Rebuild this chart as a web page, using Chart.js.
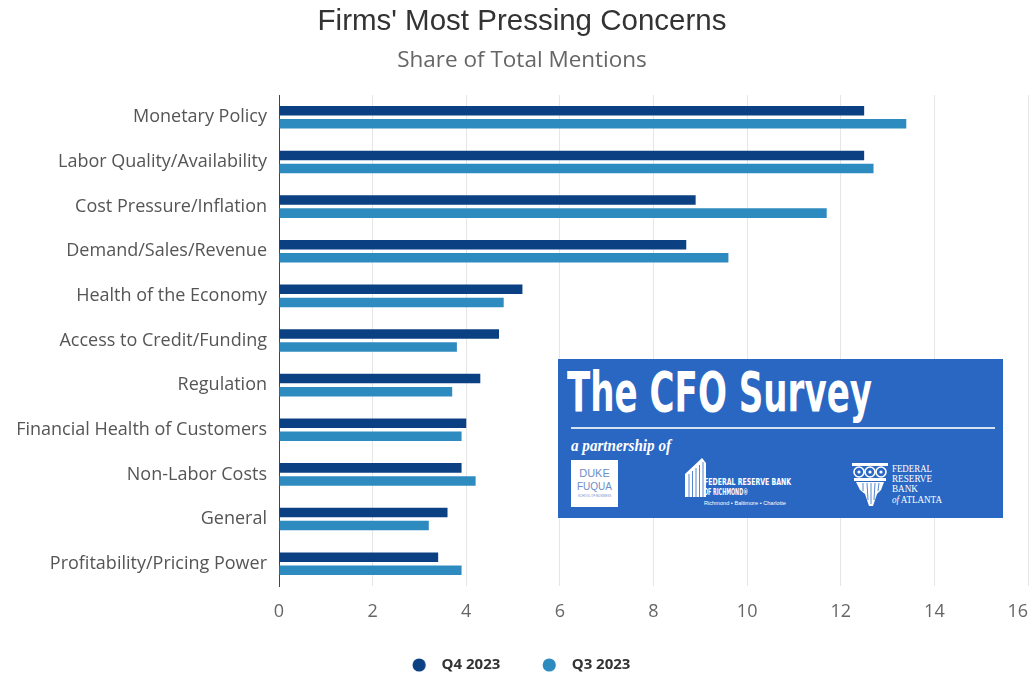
<!DOCTYPE html>
<html>
<head>
<meta charset="utf-8">
<script src="https://cdn.jsdelivr.net/npm/chart.js@4.4.1/dist/chart.umd.min.js"></script>
<style>
  html, body { margin: 0; padding: 0; background: #ffffff; }
  #wrap { position: relative; width: 1032px; height: 676px; }
  #c { position: absolute; left: 0; top: 0; }
  #logo { position: absolute; left: 558px; top: 359px; width: 445px; height: 159px; background: #2a67c3; overflow: hidden; }
  #logo .a { position: absolute; white-space: nowrap; color: #fff; transform-origin: 0 0; line-height: 1; }
  #cfo { left: 9px; top: 5px; font-family: "Liberation Sans Narrow", "DejaVu Sans Condensed", "Liberation Sans", sans-serif; font-weight: bold; font-size: 56px; }
  #rule { position: absolute; left: 13px; top: 68px; width: 424px; height: 2px; background: #d4e2f4; }
  #part { left: 13px; top: 79px; font-family: "Liberation Serif", "DejaVu Serif", serif; font-style: italic; font-weight: bold; font-size: 16px; }
  #duke { position: absolute; left: 13px; top: 101px; width: 47px; height: 47px; background: #fff; }
  #duke .d { position: absolute; left: 0; width: 47px; text-align: center; color: #6d8ec9; font-family: "Liberation Sans", sans-serif; line-height: 1; }
  .rt { font-family: "Liberation Sans Narrow", "DejaVu Sans Condensed", sans-serif; font-weight: bold; }
  .at { font-family: "Liberation Serif", "DejaVu Serif", serif; }
</style>
</head>
<body>
<div id="wrap">
  <canvas id="c" width="1032" height="676"></canvas>
  <div id="logo">
    <span class="a" id="cfo" data-w="305">The CFO Survey</span>
    <div id="rule"></div>
    <span class="a" id="part" data-w="100">a partnership of</span>
    <div id="duke">
      <div class="d" style="top:8px;font-size:11px;">DUKE</div>
      <div class="d" style="top:22px;font-size:10px;">FUQUA</div>
      <div class="d" style="top:35px;font-size:3px;">SCHOOL OF BUSINESS</div>
    </div>
    <svg style="position:absolute;left:127px;top:99px;" width="22" height="40" viewBox="0 0 22 40">
      <polygon points="0,16 17,0 21,5 21,39 0,39" fill="#ffffff"/>
      <g stroke="#2a67c3" stroke-width="0.8">
        <line x1="4" y1="16" x2="4" y2="39"/><line x1="7.5" y1="13" x2="7.5" y2="39"/>
        <line x1="11" y1="10" x2="11" y2="39"/><line x1="14.5" y1="7" x2="14.5" y2="39"/>
        <line x1="18" y1="4" x2="18" y2="39"/>
      </g>
    </svg>
    <span class="a rt" style="left:146px;top:119px;font-size:9px;" data-w="87">FEDERAL RESERVE BANK</span>
    <span class="a rt" style="left:146px;top:129px;font-size:9px;" data-w="44">OF RICHMOND®</span>
    <span class="a" style="left:146px;top:142px;font-size:5px;font-family:'Liberation Sans',sans-serif;" data-w="82">Richmond • Baltimore • Charlotte</span>
    <svg style="position:absolute;left:293px;top:103px;" width="38" height="45" viewBox="0 0 38 45">
      <rect x="1" y="1" width="36" height="3" fill="#fff"/>
      <circle cx="8" cy="10" r="5" fill="none" stroke="#fff" stroke-width="1.6"/>
      <circle cx="19" cy="10" r="5" fill="none" stroke="#fff" stroke-width="1.6"/>
      <circle cx="30" cy="10" r="5" fill="none" stroke="#fff" stroke-width="1.6"/>
      <circle cx="8" cy="10" r="1.6" fill="#fff"/><circle cx="19" cy="10" r="1.6" fill="#fff"/><circle cx="30" cy="10" r="1.6" fill="#fff"/>
      <rect x="3" y="16" width="32" height="3" fill="#fff"/>
      <polygon points="5,20 33,20 30,28 26,32 22,44 18,44 14,32 9,28" fill="#fff"/>
      <g stroke="#2a67c3" stroke-width="0.8"><line x1="12" y1="21" x2="12" y2="29"/><line x1="16" y1="21" x2="17" y2="38"/><line x1="20" y1="21" x2="20" y2="42"/><line x1="24" y1="21" x2="23" y2="38"/><line x1="28" y1="21" x2="27" y2="29"/></g>
    </svg>
    <span class="a at" style="left:334px;top:104px;font-size:11px;" data-w="40">FEDERAL</span>
    <span class="a at" style="left:334px;top:114px;font-size:11px;" data-w="40">RESERVE</span>
    <span class="a at" style="left:334px;top:124px;font-size:11px;" data-w="26">BANK</span>
    <span class="a at" style="left:334px;top:135px;font-size:11px;" data-w="50"><i>of</i> ATLANTA</span>
  </div>
</div>
<script>
// ---- data ----
const categories = [
  'Monetary Policy',
  'Labor Quality/Availability',
  'Cost Pressure/Inflation',
  'Demand/Sales/Revenue',
  'Health of the Economy',
  'Access to Credit/Funding',
  'Regulation',
  'Financial Health of Customers',
  'Non-Labor Costs',
  'General',
  'Profitability/Pricing Power'
];
const seriesNames = ['Q4 2023', 'Q3 2023'];
const q4Values = [12.5, 12.5, 8.9, 8.7, 5.2, 4.7, 4.3, 4.0, 3.9, 3.6, 3.4];
const q3Values = [13.4, 12.7, 11.7, 9.6, 4.8, 3.8, 3.7, 3.9, 4.2, 3.2, 3.9];
const xTickValues = [0, 2, 4, 6, 8, 10, 12, 14, 16];
const chartTitle = "Firms' Most Pressing Concerns";
const chartSubtitle = 'Share of Total Mentions';
const seriesColors = ['#0b4183', '#2e8bc0'];

// ---- fit helper for logo text ----
function fitTexts() {
  document.querySelectorAll('#logo [data-w]').forEach(el => {
    el.style.transform = 'none';
    const w = el.getBoundingClientRect().width;
    const target = parseFloat(el.getAttribute('data-w'));
    if (w > 0) el.style.transform = 'scaleX(' + (target / w) + ')';
  });
}
fitTexts();
if (document.fonts && document.fonts.ready) document.fonts.ready.then(fitTexts);

// legend dot image (circle drawn slightly left of the image centre)
function makeDot(color) {
  const cv = document.createElement('canvas');
  cv.width = 32; cv.height = 16;
  const g = cv.getContext('2d');
  g.fillStyle = color;
  g.beginPath();
  g.arc(16 - 4.75, 8, 6.6, 0, Math.PI * 2);
  g.fill();
  return cv;
}

const PAD_LEFT = 16;
const AREA_LEFT = 279;

const lastTickRight = {
  id: 'lastTickRight',
  afterUpdate(chart) {
    const s = chart.scales.x;
    if (!s) return;
    if (!s.__patched) {
      const orig = s._computeLabelItems.bind(s);
      s._computeLabelItems = function (ca) {
        const items = orig(ca);
        if (items && items.length) {
          const it = items[items.length - 1];
          if (it.options) it.options.textAlign = 'right';
        }
        return items;
      };
      s._computeLabelArea = function () { return undefined; };
      s.__patched = true;
    }
    s._labelItems = null;
  }
};

new Chart(document.getElementById('c'), {
  type: 'bar',
  data: {
    labels: categories,
    datasets: [
      { label: seriesNames[0], data: q4Values, backgroundColor: seriesColors[0], borderWidth: 0,
        categoryPercentage: 0.585, barPercentage: 0.73 },
      { label: seriesNames[1], data: q3Values, backgroundColor: seriesColors[1], borderWidth: 0,
        categoryPercentage: 0.585, barPercentage: 0.73 }
    ]
  },
  plugins: [lastTickRight],
  options: {
    indexAxis: 'y',
    responsive: false,
    animation: false,
    devicePixelRatio: 1,
    layout: { padding: { left: PAD_LEFT, right: 4, top: 0, bottom: -6.5 } },
    plugins: {
      title: {
        display: true, text: chartTitle, color: '#333333',
        font: { family: '"Liberation Sans", Arial, sans-serif', size: 29.5, weight: 'normal', lineHeight: 1.2 },
        padding: { top: 4, bottom: 2.4 }
      },
      subtitle: {
        display: true, text: chartSubtitle, color: '#666666',
        font: { family: '"Open Sans", sans-serif', size: 22.5, weight: 'normal', lineHeight: 1.2 },
        padding: { top: 5.5, bottom: 20.7 }
      },
      legend: {
        position: 'bottom',
        labels: {
          usePointStyle: true, pointStyleWidth: 20.5, boxHeight: 9.2,
          padding: 43.4, color: '#333333',
          font: { family: '"Open Sans", sans-serif', size: 15, weight: 'bold' },
          generateLabels(chart) {
            const items = Chart.defaults.plugins.legend.labels.generateLabels(chart);
            items.forEach((it, i) => { it.pointStyle = makeDot(seriesColors[i]); });
            return items;
          }
        }
      },
      tooltip: { enabled: false }
    },
    scales: {
      x: {
        type: 'linear', position: 'bottom', min: 0, max: 16,
        afterBuildTicks: (s) => { s.ticks = xTickValues.map(v => ({ value: v })); },
        afterFit: (s) => { s.paddingRight = 0; s.height = 28.1; },
        grid: { color: '#e6e6e6', lineWidth: 1, drawTicks: false },
        border: { display: false },
        ticks: { color: '#666666', padding: 15, font: { family: '"Open Sans", sans-serif', size: 18 } }
      },
      y: {
        type: 'category',
        afterFit: (s) => { s.width = AREA_LEFT - PAD_LEFT; },
        grid: { display: false, drawTicks: false },
        border: { display: true, color: '#444444', width: 1 },
        ticks: { color: '#555555', padding: 12, font: { family: '"Open Sans", sans-serif', size: 18 } }
      }
    }
  }
});
</script>
</body>
</html>
